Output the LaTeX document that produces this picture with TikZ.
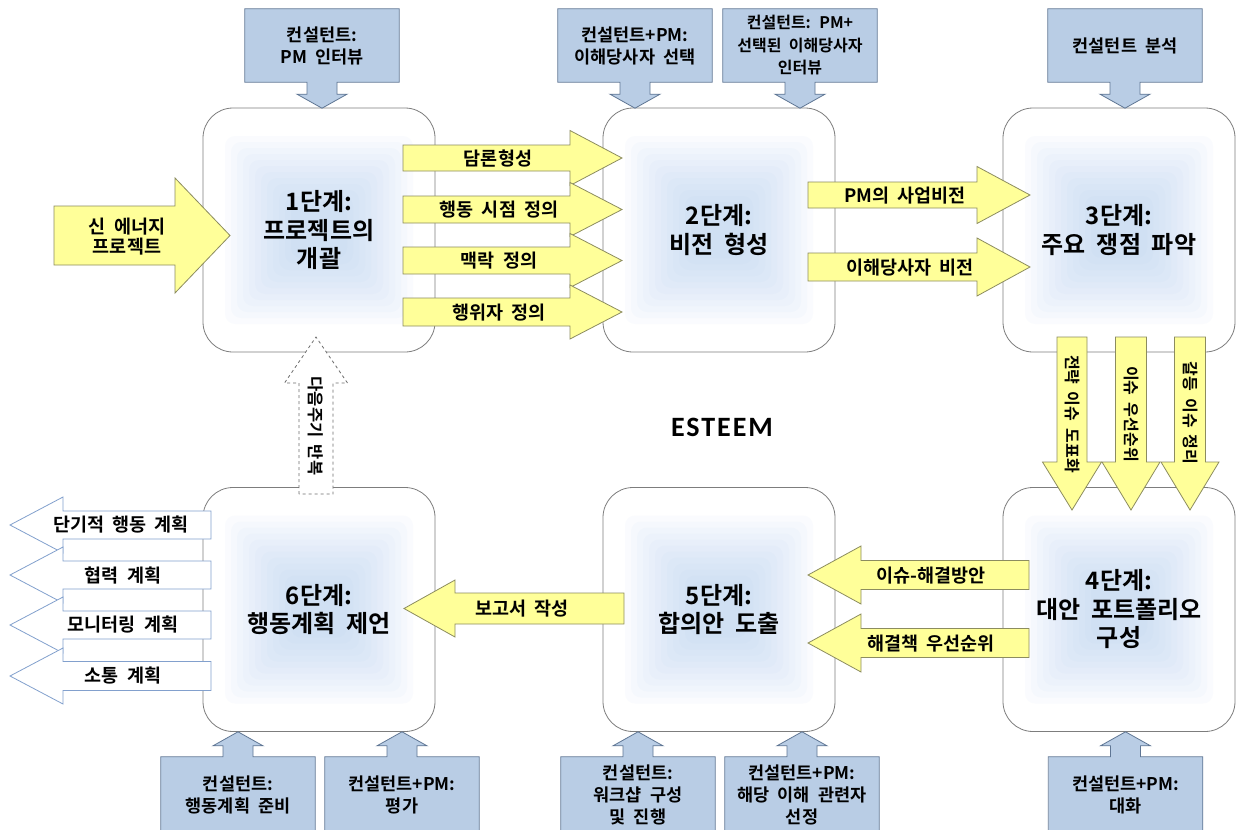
\documentclass[tikz,border=0pt]{standalone}
\usepackage{fontspec}
\setmainfont{Noto Sans CJK KR}[BoldFont={Noto Sans CJK KR Bold}, WordSpace=2]
\newfontfamily\latinfont{Carlito}[LetterSpace=7]
\usetikzlibrary{calc}

\definecolor{yfill}{RGB}{255,255,153}
\definecolor{ydraw}{RGB}{140,140,95}
\definecolor{bfill}{RGB}{185,205,229}
\definecolor{bdraw}{RGB}{95,118,148}
\definecolor{sdraw}{RGB}{125,125,125}
\definecolor{glowc}{RGB}{172,203,240}
\definecolor{odraw}{RGB}{130,160,205}
\definecolor{ddraw}{RGB}{110,110,110}

\newcommand\stagefont{\fontsize{24}{28.5}\selectfont\bfseries}
\newcommand\lblfont{\fontsize{18.5}{20}\selectfont\bfseries}
\newcommand\vlblfont{\fontsize{16}{20}\selectfont\bfseries}
\newcommand\bluefont{\fontsize{17.5}{22}\selectfont\bfseries}

% horizontal block arrow: style, xback, xhead, xtip, yc, shaft half, head half
\newcommand\harrow[7]{%
  \draw[#1] (#2,#5-#6) -- (#3,#5-#6) -- (#3,#5-#7) -- (#4,#5) -- (#3,#5+#7) -- (#3,#5+#6) -- (#2,#5+#6) -- cycle;}
% vertical block arrow: style, yback, yhead, ytip, xc, shaft half, head half
\newcommand\varrow[7]{%
  \draw[#1] (#5-#6,#2) -- (#5-#6,#3) -- (#5-#7,#3) -- (#5,#4) -- (#5+#7,#3) -- (#5+#6,#3) -- (#5+#6,#2) -- cycle;}

% blue callout pointing down from a node
\newcommand\calldown[1]{%
  \fill[bfill] ($(#1.south)+(-15,-1)$) -- ($(#1.south)+(-15,12)$) -- ($(#1.south)+(-25,12)$) -- ($(#1.south)+(0,26)$) -- ($(#1.south)+(25,12)$) -- ($(#1.south)+(15,12)$) -- ($(#1.south)+(15,-1)$) -- cycle;
  \draw[bdraw,line width=0.8pt] (#1.north west) -- (#1.north east) -- (#1.south east) -- ($(#1.south)+(15,0)$) -- ($(#1.south)+(15,12)$) -- ($(#1.south)+(25,12)$) -- ($(#1.south)+(0,26)$) -- ($(#1.south)+(-25,12)$) -- ($(#1.south)+(-15,12)$) -- ($(#1.south)+(-15,0)$) -- (#1.south west) -- cycle;}
% blue callout pointing up from a node
\newcommand\callup[1]{%
  \fill[bfill] ($(#1.north)+(-15,1)$) -- ($(#1.north)+(-15,-11)$) -- ($(#1.north)+(-25,-11)$) -- ($(#1.north)+(0,-25)$) -- ($(#1.north)+(25,-11)$) -- ($(#1.north)+(15,-11)$) -- ($(#1.north)+(15,1)$) -- cycle;
  \draw[bdraw,line width=0.8pt] (#1.south west) -- (#1.north west) -- ($(#1.north)+(-15,0)$) -- ($(#1.north)+(-15,-11)$) -- ($(#1.north)+(-25,-11)$) -- ($(#1.north)+(0,-25)$) -- ($(#1.north)+(25,-11)$) -- ($(#1.north)+(15,-11)$) -- ($(#1.north)+(15,0)$) -- (#1.north east) -- (#1.south east);}

\begin{document}
\begin{tikzpicture}[x=1pt,y=-1pt,
  stage/.style={draw=sdraw, fill=white, line width=0.8pt, rounded corners=30pt,
    minimum width=232pt, minimum height=244pt, align=center, font=\stagefont,
    path picture={\foreach \r in {94,88,...,28}{\fill[glowc,opacity=0.06,rounded corners=10pt]
      ([shift={(-\r pt,-\r pt)}]path picture bounding box.center) rectangle
      ([shift={(\r pt,\r pt)}]path picture bounding box.center);}}},
  bluebox/.style={fill=bfill, draw=none, minimum width=154pt, minimum height=73pt,
    align=center, font=\bluefont, inner sep=1pt},
  bluebot/.style={bluebox, minimum height=76pt},
  yarr/.style={draw=ydraw, fill=yfill, line width=0.8pt, line join=miter},
  oarr/.style={draw=odraw, fill=white, line width=0.8pt},
  darr/.style={draw=ddraw, fill=white, line width=0.8pt, dashed},
  lbl/.style={font=\lblfont, inner sep=0pt, align=center},
  vlbl/.style={font=\vlblfont, inner sep=0pt, rotate=-90},
]
\useasboundingbox (0,0) rectangle (1240,830);
\fill[white] (0,0) rectangle (1240,830);

% stage boxes
\node[stage] (s1) at (319,230) {1단계:\\프로젝트의\\개괄};
\node[stage] (s2) at (719,230) {2단계:\\비전 형성};
\node[stage] (s3) at (1119,230) {3단계:\\주요 쟁점 파악};
\node[stage] (s4) at (1119,609.5) {4단계:\\대안 포트폴리오\\구성};
\node[stage] (s5) at (719,609.5) {5단계:\\합의안 도출};
\node[stage] (s6) at (319,609.5) {6단계:\\행동계획 제언};

% top blue boxes
\node[bluebox] (t1) at (322,45.5) {컨설턴트:\\PM 인터뷰};
\calldown{t1}
\node[bluebox] (t2) at (635,45.5) {컨설턴트+PM:\\이해당사자 선택};
\calldown{t2}
\node[bluebox, font=\fontsize{16}{22.5}\selectfont\bfseries] (t3) at (800,45.5) {컨설턴트: PM+\\선택된 이해당사자\\인터뷰};
\calldown{t3}
\node[bluebox] (t4) at (1125,45.5) {컨설턴트 분석};
\calldown{t4}

% bottom blue boxes
\node[bluebot] (b6a) at (238,795) {컨설턴트:\\행동계획 준비};
\callup{b6a}
\node[bluebot] (b6b) at (402,795) {컨설턴트+PM:\\평가};
\callup{b6b}
\node[bluebot] (b5a) at (638,795) {컨설턴트:\\워크샵 구성\\및 진행};
\callup{b5a}
\node[bluebot] (b5b) at (802,795) {컨설턴트+PM:\\해당 이해 관련자\\선정};
\callup{b5b}
\node[bluebot] (b4) at (1125.5,795) {컨설턴트+PM:\\대화};
\callup{b4}

% yellow arrows
\harrow{yarr}{54}{175}{230}{235.5}{29.5}{57.5}
\node[lbl] (in) at (127,237) {신 에너지\\프로젝트};

\harrow{yarr}{403}{570}{622}{158}{13}{27.5}
\node[lbl] (a1) at (498,159) {담론형성};
\harrow{yarr}{403}{570}{622}{209.5}{13.5}{27}
\node[lbl] (a2) at (499,210) {행동 시점 정의};
\harrow{yarr}{403}{570}{622}{260.5}{13.5}{27}
\node[lbl] (a3) at (499,261) {맥락 정의};
\harrow{yarr}{403}{570}{622}{312}{14}{27}
\node[lbl] (a4) at (499,313) {행위자 정의};

\harrow{yarr}{808}{977}{1030}{195}{13}{28.5}
\node[lbl] (p1) at (905,196) {PM의 사업비전};
\harrow{yarr}{808}{977}{1030}{267}{14}{29}
\node[lbl] (p2) at (910,268) {이해당사자 비전};

\varrow{yarr}{337}{462}{510}{1072}{15}{29.5}
\node[vlbl] (v1) at (1072,414) {전략 이슈 도표화};
\varrow{yarr}{337}{462}{510}{1131}{15.5}{29}
\node[vlbl] (v2) at (1131,414) {이슈 우선순위};
\varrow{yarr}{337}{462}{510}{1190}{15.5}{29}
\node[vlbl] (v3) at (1190,413) {갈등 이슈 정리};

\harrow{yarr}{1029}{861}{808}{575}{14.5}{29}
\node[lbl] (r1) at (931,576) {이슈-해결방안};
\harrow{yarr}{1029}{861}{808}{643}{14.5}{29}
\node[lbl] (r2) at (931,644) {해결책 우선순위};

\harrow{yarr}{624}{455}{404}{608.5}{15.5}{28.5}
\node[lbl] (rep) at (522,609) {보고서 작성};

% outlined output arrows
\harrow{oarr}{211}{63}{10}{525}{14}{28}
\node[lbl] (o1) at (121,525) {단기적 행동 계획};
\harrow{oarr}{211}{63}{10}{575}{14}{28}
\node[lbl] (o2) at (123,575) {협력 계획};
\harrow{oarr}{211}{63}{10}{625}{14}{28}
\node[lbl] (o3) at (123,625) {모니터링 계획};
\harrow{oarr}{211}{63}{10}{676}{14.5}{28}
\node[lbl] (o4) at (123,676) {소통 계획};

% dashed feedback arrow
\varrow{darr}{494}{383}{337}{316}{17}{31.5}
\node[vlbl, font=\fontsize{16.5}{20}\selectfont\bfseries] (fb) at (316,426) {다음주기 반복};

% title
\node[font=\latinfont\bfseries\fontsize{28}{30}\selectfont, inner sep=0pt] (esteem) at (722,427) {ESTEEM};
\end{tikzpicture}
\end{document}
